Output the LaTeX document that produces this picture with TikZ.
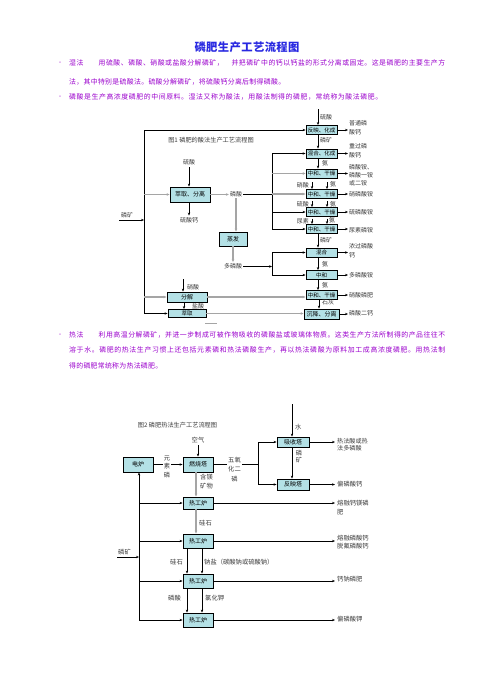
\documentclass[tikz,border=0pt]{standalone}
\usepackage{fontspec}
\setmainfont{Noto Sans CJK SC}
\usetikzlibrary{arrows.meta}
\definecolor{boxc}{RGB}{180,225,230}
\definecolor{titlec}{RGB}{40,40,225}
\definecolor{purp}{RGB}{155,0,205}
\definecolor{txtc}{RGB}{60,60,60}
\definecolor{grayl}{RGB}{165,165,165}
\newskip\spreadskip \spreadskip=0pt plus 1fil
\def\spreadaux#1{#1\futurelet\spreadnext\spreadcheck}
\def\spreadcheck{\ifx\spreadnext\relax\expandafter\spreadgobble\else\hskip\spreadskip\expandafter\spreadaux\fi}
\def\spreadgobble#1{}
\newcommand\spreadline[2]{\hbox to #1{\spreadaux#2\relax}}
\begin{document}
\begin{tikzpicture}[x=1pt,y=-1pt,
  box/.style={draw=black, line width=0.9pt, fill=boxc, inner sep=0pt, font=\fontsize{5.5}{6}\selectfont, text=black},
  bbox/.style={box, font=\fontsize{6}{7}\selectfont},
  lbl/.style={inner sep=0pt, font=\fontsize{6}{9}\selectfont, text=txtc, align=center},
  lbltwo/.style={lbl, font=\fontsize{6.3}{8}\selectfont},
  outl/.style={lbl, anchor=west, align=left},
  outltwo/.style={lbltwo, anchor=west, align=left},
  arr/.style={-{Stealth[length=3pt,width=2.4pt]}, line width=0.6pt, draw=black},
  garr/.style={-{Stealth[length=3pt,width=2.6pt]}, line width=1.1pt, draw=grayl},
  ln/.style={line width=0.6pt, draw=black},
  gln/.style={line width=1.1pt, draw=grayl},
  body/.style={inner sep=0pt, anchor=west, font=\fontsize{6.9}{8}\selectfont, text=purp},
  dot/.style={inner sep=0pt, font=\fontsize{5}{6}\selectfont, text=purp},
]
\fill[white] (0,0) rectangle (494,683);
\useasboundingbox (0,0) rectangle (494,683);

% ---------- title and text ----------
\node[inner sep=0pt, font=\fontsize{11.3}{12}\selectfont\bfseries, text=titlec] (title) at (247,47) {\spreadline{105pt}{磷肥生产工艺流程图}};
\node[dot] (d1) at (60,63) {•};
\node[body] (p1a) at (69,63) {\spreadline{376pt}{湿法　　用硫酸、磷酸、硝酸或盐酸分解磷矿，　并把磷矿中的钙以钙盐的形式分离或固定。这是磷肥的主要生产方}};
\node[body] (p1b) at (69,82) {\spreadline{216pt}{法，其中特别是硫酸法。硫酸分解磷矿，将硫酸钙分离后制得磷酸。}};
\node[dot] (d2) at (60,97) {•};
\node[body] (p2) at (69,97) {\spreadline{313pt}{磷酸是生产高浓度磷肥的中间原料。湿法又称为酸法，用酸法制得的磷肥，常统称为酸法磷肥。}};
\node[dot] (d3) at (60,335) {•};
\node[body] (p3a) at (69,335) {\spreadline{376pt}{热法　　利用高温分解磷矿，并进一步制成可被作物吸收的磷酸盐或玻璃体物质。这类生产方法所制得的产品往往不}};
\node[body] (p3b) at (69,350) {\spreadline{376pt}{溶于水。磷肥的热法生产习惯上还包括元素磷和热法磷酸生产，再以热法磷酸为原料加工成高浓度磷肥。用热法制}};
\node[body] (p3c) at (69,366) {\spreadline{93pt}{得的磷肥常统称为热法磷肥。}};

% ---------- figure 1 ----------
\node[lbl, font=\fontsize{6.2}{7}\selectfont] (fig1) at (211,140) {图1 磷肥的酸法生产工艺流程图};

\node[box, minimum width=31pt, minimum height=9pt] (r1) at (321.5,130) {反映、化成};
\node[box, minimum width=31pt, minimum height=9pt] (r2) at (321.5,153.5) {混合、化成};
\node[box, minimum width=31pt, minimum height=9pt] (r3) at (321.5,173.5) {中和、干燥};
\node[box, minimum width=31pt, minimum height=9pt] (r4) at (321.5,194) {中和、干燥};
\node[box, minimum width=31pt, minimum height=9pt] (r5) at (321.5,212) {中和、干燥};
\node[box, minimum width=31pt, minimum height=9pt] (r6) at (321.5,229) {中和、干燥};
\node[box, minimum width=31pt, minimum height=9pt] (r7) at (321.5,252.5) {混合};
\node[box, minimum width=31pt, minimum height=9pt] (r8) at (321.5,275) {中和};
\node[box, minimum width=31pt, minimum height=9pt] (r9) at (321.5,295) {中和、干燥};
\node[bbox, minimum width=35pt, minimum height=10pt] (r10) at (321.5,314) {沉降、分离};

% top input
\coordinate (s0) at (318,109);
\draw[arr] (s0) -- (s0 |- r1.north);
\node[lbl, anchor=west] (s0l) at (320,117) {硫酸};

% column links
\draw[arr] ([xshift=-3.5pt]r1.south) -- ([xshift=-3.5pt]r2.north);
\node[lbl, anchor=west] (l12) at (320,140) {磷矿};
\draw[arr] ([xshift=-3.5pt]r2.south) -- ([xshift=-3.5pt]r3.north);
\node[lbl, anchor=west] (l23) at (322,163) {氨};
\coordinate (a34) at (312,182); \coordinate (b34) at (327,182);
\draw[arr] (a34) -- (a34 |- r4.north);
\draw[arr] (b34) -- (b34 |- r4.north);
\node[lbl, anchor=east] (l34a) at (309,185) {硝酸};
\node[lbl, anchor=west] (l34b) at (330,184) {氨};
\coordinate (a45) at (312,201); \coordinate (b45) at (327,201);
\draw[arr] (a45) -- (a45 |- r5.north);
\draw[arr] (b45) -- (b45 |- r5.north);
\node[lbl, anchor=east] (l45a) at (309,204) {硫酸};
\node[lbl, anchor=west] (l45b) at (330,204) {氨};
\coordinate (a56) at (312,218.5); \coordinate (b56) at (327,218.5);
\draw[arr] (a56) -- (a56 |- r6.north);
\draw[arr] (b56) -- (b56 |- r6.north);
\node[lbl, anchor=east] (l56a) at (309,221) {尿素};
\node[lbl, anchor=west] (l56b) at (329,220) {氨};
\draw[arr] ([xshift=-3.5pt]r6.south) -- ([xshift=-3.5pt]r7.north);
\node[lbl, anchor=west] (l67) at (320,240) {磷矿};
\draw[arr] ([xshift=-3.5pt]r7.south) -- ([xshift=-3.5pt]r8.north);
\node[lbl, anchor=west] (l78) at (322,264) {氨};
\draw[arr] ([xshift=-3.5pt]r8.south) -- ([xshift=-3.5pt]r9.north);
\node[lbl, anchor=west] (l89) at (322,285) {氨};
\draw[arr] ([xshift=-2.5pt]r9.south) -- ([xshift=-2.5pt]r9.south |- r10.north);
\node[lbl, anchor=west] (l910) at (322,302.5) {石灰};

% outputs
\coordinate (ox) at (348,0);
\foreach \r in {r1,r2,r3,r4,r5,r6,r7,r8,r9,r10} {\draw[arr] (\r.east) -- (\r.east -| ox);}
\node[outl] (o1) at (349,128) {普通磷\\酸钙};
\node[outl] (o2) at (349,151) {重过磷\\酸钙};
\node[outl, font=\fontsize{6}{8}\selectfont] (o3) at (349,175) {磷酸铵、\\磷酸一铵\\或二铵};
\node[outl] (o4) at (349,194) {硝磷酸铵};
\node[outl] (o5) at (349,212) {硫磷酸铵};
\node[outl] (o6) at (349,230.5) {尿素磷铵};
\node[outl] (o7) at (349,251) {浓过磷酸\\钙};
\node[outl] (o8) at (349,275) {多磷酸铵};
\node[outl] (o9) at (349,295) {硝酸磷肥};
\node[outl] (o10) at (349,313.5) {磷酸二钙};

% left side
\coordinate (tk1) at (144,130);
\coordinate (tk2) at (144,313.5);
\draw[ln] (tk1) -- (tk2);
\draw[arr] (tk1) -- (r1.west);
\coordinate (kin) at (119,220);
\draw[arr] (kin) -- (kin -| tk1);
\node[lbl, anchor=west] (kl) at (121,215.5) {磷矿};

\node[bbox, minimum width=40pt, minimum height=15pt] (b1) at (190,194.5) {萃取、分离};
\draw[garr] (b1.west -| tk1) -- (b1.west);
\node[lbl] (sa) at (189,162.5) {硫酸};
\draw[arr] ([yshift=-2pt]sa.south) -- (sa.south |- b1.north);
\node[lbl] (sg) at (189,220) {硫酸钙};
\draw[arr] (sg |- b1.south) -- ([yshift=1.5pt]sg.north);
\node[lbl] (pa) at (236,194.5) {磷酸};
\draw[garr] (b1.east) -- ([xshift=-1pt]pa.west);

\coordinate (bus1) at (272,0);
\draw[ln] ([xshift=1pt]pa.east) -- (pa.east -| bus1);
\draw[ln] (bus1 |- r2.west) -- (bus1 |- r6.west);
\draw[arr] (bus1 |- r2.west) -- (r2.west);
\draw[garr] (bus1 |- r3.west) -- (r3.west);
\draw[garr] (bus1 |- r4.west) -- (r4.west);
\draw[arr] (bus1 |- r5.west) -- (r5.west);
\draw[arr] (bus1 |- r6.west) -- (r6.west);

\node[bbox, minimum width=28pt, minimum height=14pt] (b2) at (233,239) {蒸发};
\draw[garr] ([yshift=-1pt]pa.south) -- (pa.south |- b2.north);
\node[lbl] (pp) at (233,266.5) {多磷酸};
\draw[garr] (pp |- b2.south) -- ([yshift=1.5pt]pp.north);
\coordinate (bus2) at (272,0);
\draw[arr] ([xshift=1pt]pp.east) -- (pp.east -| bus2);
\draw[ln] (bus2 |- r7.west) -- (bus2 |- r8.west);
\draw[arr] (bus2 |- r7.west) -- (r7.west);
\draw[arr] (bus2 |- r8.west) -- (r8.west);

\node[bbox, minimum width=40pt, minimum height=10pt] (b3) at (187,297) {分解};
\draw[garr] (b3.west -| tk1) -- (b3.west);
\coordinate (hn) at (183,279);
\draw[arr] (hn) -- (hn |- b3.north);
\node[lbl, anchor=west] (hnl) at (187,287) {硝酸};
\node[box, minimum width=38pt, minimum height=8pt] (b4) at (187,313.5) {萃取};
\draw[arr] ([xshift=-3pt]b3.south) -- ([xshift=-3pt]b4.north);
\node[lbl, anchor=west] (hcl) at (192,306) {盐酸};
\draw[arr] (tk2) -- (b4.west);
\draw[garr] (b3.east) -- (b3.east -| r9.west);
\draw[garr] (b4.east) -- (b4.east -| r10.west);
\draw[line width=0.6pt, draw=grayl] (205,323) -- (217,323);

% ---------- figure 2 ----------
\node[lbl, font=\fontsize{6.2}{7}\selectfont] (fig2) at (177.5,425) {图2 磷肥热法生产工艺流程图};

\node[bbox, minimum width=32pt, minimum height=10pt] (c1) at (293,442) {吸收塔};
\node[bbox, minimum width=32pt, minimum height=11pt] (c2) at (293,484.5) {反映塔};
\coordinate (w0) at (292,404);
\draw[arr] (w0) -- (w0 |- c1.north);
\node[lbltwo, anchor=west] (wl) at (295,427) {水};
\draw[arr] ([xshift=-1pt]c1.south) -- ([xshift=-1pt]c2.north);
\node[lbltwo, font=\fontsize{6.3}{7.5}\selectfont] (kl2) at (299,456.5) {磷\\矿};
\coordinate (ox2) at (335,0);
\draw[arr] (c1.east) -- (c1.east -| ox2);
\node[outltwo, font=\fontsize{6.1}{7.6}\selectfont] (q1) at (337,444.5) {热法酸或热\\法多磷酸};
\draw[arr] (c2.east) -- (c2.east -| ox2);
\node[outltwo] (q2) at (337,484.5) {偏磷酸钙};

\node[bbox, minimum width=30pt, minimum height=15pt] (c3) at (138,464.5) {电炉};
\node[bbox, minimum width=30pt, minimum height=15pt] (c4) at (198,464.5) {燃烧塔};
\draw[arr] (c3.east) -- (c4.west);
\node[lbltwo, fill=white, inner sep=0.6pt, font=\fontsize{6.3}{8.5}\selectfont] (ysl) at (167,466.5) {元\\素\\磷};
\node[lbltwo] (air) at (198,440) {空气};
\draw[arr] ([yshift=-2pt]air.south) -- (air.south |- c4.north);

\coordinate (bus3) at (258,0);
\draw[ln] (c4.east) -- (c4.east -| bus3);
\node[lbltwo, fill=white, inner sep=0.8pt, font=\fontsize{6.3}{9.5}\selectfont] (p2o5) at (234.5,469.5) {五氧\\化二\\磷};
\draw[ln] (bus3 |- c1.west) -- (bus3 |- c2.west);
\draw[arr] (bus3 |- c1.west) -- (c1.west);
\draw[arr] (bus3 |- c2.west) -- (c2.west);

\node[bbox, minimum width=30pt, minimum height=12pt] (h1) at (198,503) {热工炉};
\node[bbox, minimum width=30pt, minimum height=14pt] (h2) at (198,541) {热工炉};
\node[bbox, minimum width=30pt, minimum height=14pt] (h3) at (198,581) {热工炉};
\node[bbox, minimum width=30pt, minimum height=14pt] (h4) at (198,620) {热工炉};

\draw[garr] ([xshift=-2pt]c4.south) -- ([xshift=-2pt]c4.south |- h1.north);
\node[lbltwo, anchor=west, align=left, font=\fontsize{6.3}{9.3}\selectfont] (mg) at (200,481.3) {含镁\\矿物};

\coordinate (tk3) at (139,620);
\draw[arr] (tk3) -- (tk3 |- c3.south);
\draw[arr] (tk3 |- h1.west) -- (h1.west);
\draw[arr] (tk3 |- h2.west) -- (h2.west);
\draw[arr] (tk3 |- h3.west) -- (h3.west);
\draw[arr] (tk3) -- (h4.west);
\coordinate (kin2) at (117,557);
\draw[arr] (kin2) -- (kin2 -| tk3);
\node[lbltwo, anchor=west] (kl3) at (118,552) {磷矿};

\draw[garr] ([xshift=-2pt]h1.south) -- ([xshift=-2pt]h2.north);
\node[lbltwo, anchor=west] (sil1) at (199,523) {硅石};
\draw[arr] ([xshift=-11pt]h2.south) -- ([xshift=-11pt]h3.north);
\draw[arr] ([xshift=4pt]h2.south) -- ([xshift=4pt]h3.north);
\node[lbltwo, anchor=east] (sil2) at (183,562) {硅石};
\node[lbltwo, anchor=west] (na) at (204,562) {钠盐（碳酸钠或硫酸钠）};
\draw[arr] ([xshift=-11pt]h3.south) -- ([xshift=-11pt]h4.north);
\draw[arr] ([xshift=4pt]h3.south) -- ([xshift=4pt]h4.north);
\node[lbltwo, anchor=east] (pa2) at (181,598) {磷酸};
\node[lbltwo, anchor=west] (kcl) at (205,598) {氯化钾};

\draw[arr] (h1.east) -- (h1.east -| ox2);
\node[outltwo, font=\fontsize{6.3}{9}\selectfont] (q3) at (337,507.5) {熔融钙镁磷\\肥};
\draw[arr] (h2.east) -- (h2.east -| ox2);
\node[outltwo] (q4) at (337,542) {熔融磷酸钙\\脱氟磷酸钙};
\draw[arr] (h3.east) -- (h3.east -| ox2);
\node[outltwo] (q5) at (337,579.5) {钙钠磷肥};
\draw[arr] (h4.east) -- (h4.east -| ox2);
\node[outltwo] (q6) at (337,619) {偏磷酸钾};
\end{tikzpicture}
\end{document}
